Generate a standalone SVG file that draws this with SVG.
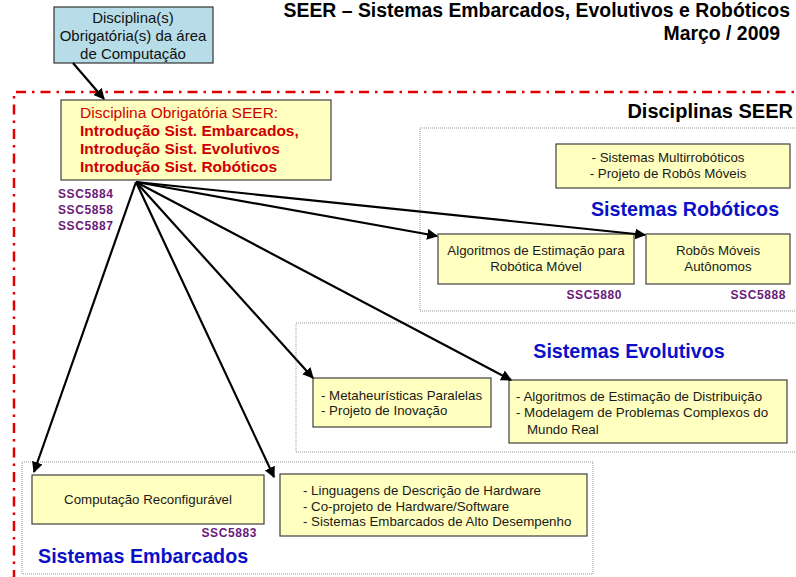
<svg xmlns="http://www.w3.org/2000/svg" width="796" height="577" viewBox="0 0 796 577">
<style>
text{font-family:"Liberation Sans",Arial,sans-serif;}
.box{fill:#ffffc0;stroke:#404040;stroke-width:1.2;}
.cont{fill:#ffffff;stroke:#999999;stroke-width:1;stroke-dasharray:1 1;}
.t{font-size:13.3px;fill:#1a1a1a;}
.code{font-size:12px;font-weight:bold;fill:#6a1b7a;letter-spacing:0.6px;}
.sec{font-size:19.7px;font-weight:bold;fill:#0b10c8;}
.red{font-size:15.5px;fill:#d00000;}
.conn{stroke:#000;stroke-width:2.2;fill:none;marker-end:url(#ah);}
</style>
<defs>
<marker id="ah" viewBox="0 0 10 10" refX="9" refY="5" markerWidth="5" markerHeight="5" orient="auto" markerUnits="strokeWidth">
<path d="M0,0 L10,5 L0,10 z" fill="#000"/>
</marker>
</defs>
<rect width="796" height="577" fill="#ffffff"/>

<g id="title">
<text x="790" y="17" text-anchor="end" font-size="19.4" font-weight="bold" fill="#000">SEER – Sistemas Embarcados, Evolutivos e Robóticos</text>
<text x="780" y="40" text-anchor="end" font-size="19.4" font-weight="bold" fill="#000">Março / 2009</text>
</g>

<g id="seer-border">
<path d="M14,580 L14,92 L800,92" fill="none" stroke="#e00000" stroke-width="2.5" stroke-dasharray="10 6 2.5 6"/>
<text x="793" y="118" text-anchor="end" font-size="20" font-weight="bold" fill="#000">Disciplinas SEER</text>
</g>

<g id="computacao-top">
<rect x="54" y="7" width="159" height="56" fill="#b7dde8" stroke="#333" stroke-width="1.2"/>
<text x="133" y="23" text-anchor="middle" font-size="15" fill="#111">Disciplina(s)</text>
<text x="133" y="41" text-anchor="middle" font-size="15" fill="#111">Obrigatória(s) da área</text>
<text x="133" y="59" text-anchor="middle" font-size="15" fill="#111">de Computação</text>
</g>

<g id="obrigatoria">
<rect class="box" x="61" y="100" width="270" height="80"/>
<text class="red" x="80" y="118" fill="#e00000">Disciplina Obrigatória SEER:</text>
<text class="red" x="80" y="136" font-weight="bold">Introdução Sist. Embarcados,</text>
<text class="red" x="80" y="154" font-weight="bold">Introdução Sist. Evolutivos</text>
<text class="red" x="80" y="172" font-weight="bold">Introdução Sist. Robóticos</text>
<text class="code" x="58" y="198">SSC5884</text>
<text class="code" x="58" y="214">SSC5858</text>
<text class="code" x="58" y="230">SSC5887</text>
</g>

<g id="robotica">
<rect class="cont" x="420" y="128" width="380" height="183"/>
<text class="sec" x="685" y="216" text-anchor="middle">Sistemas Robóticos</text>
</g>
<g id="multirrobo">
<rect class="box" x="556" y="144" width="234" height="44"/>
<text class="t" x="668" y="162" text-anchor="middle">- Sistemas Multirrobóticos</text>
<text class="t" x="668" y="178" text-anchor="middle">- Projeto de Robôs Móveis</text>
</g>
<g id="estimacao-robotica">
<rect class="box" x="438" y="234" width="196" height="50"/>
<text class="t" x="536" y="255" text-anchor="middle">Algoritmos de Estimação para</text>
<text class="t" x="536" y="271" text-anchor="middle">Robótica Móvel</text>
<text class="code" x="622" y="299" text-anchor="end">SSC5880</text>
</g>
<g id="robos-moveis">
<rect class="box" x="646" y="234" width="144" height="50"/>
<text class="t" x="718" y="255" text-anchor="middle">Robôs Móveis</text>
<text class="t" x="718" y="271" text-anchor="middle">Autônomos</text>
<text class="code" x="786" y="299" text-anchor="end">SSC5888</text>
</g>

<g id="evolutivos">
<rect class="cont" x="296" y="323" width="504" height="129"/>
<text class="sec" x="629" y="358" text-anchor="middle">Sistemas Evolutivos</text>
</g>
<g id="metaheuristicas">
<rect class="box" x="313" y="378" width="178" height="49"/>
<text class="t" x="321" y="400">- Metaheurísticas Paralelas</text>
<text class="t" x="321" y="415">- Projeto de Inovação</text>
</g>
<g id="estimacao-distribuicao">
<rect class="box" x="509" y="380" width="278" height="63"/>
<text class="t" x="516" y="401">- Algoritmos de Estimação de Distribuição</text>
<text class="t" x="516" y="417">- Modelagem de Problemas Complexos do</text>
<text class="t" x="527" y="434">Mundo Real</text>
</g>

<g id="embarcados">
<rect class="cont" x="22" y="462" width="571" height="112"/>
<text class="sec" x="38" y="563">Sistemas Embarcados</text>
</g>
<g id="reconfiguravel">
<rect class="box" x="32" y="475" width="232" height="49"/>
<text class="t" x="148" y="504" text-anchor="middle">Computação Reconfigurável</text>
<text class="code" x="257" y="537" text-anchor="end">SSC5883</text>
</g>
<g id="hardware">
<rect class="box" x="280" y="474" width="307" height="62"/>
<text class="t" x="303" y="495">- Linguagens de Descrição de Hardware</text>
<text class="t" x="303" y="511">- Co-projeto de Hardware/Software</text>
<text class="t" x="303" y="526">- Sistemas Embarcados de Alto Desempenho</text>
</g>

<g id="connectors">
<line class="conn" x1="73" y1="63" x2="104" y2="99"/>
<line class="conn" x1="136" y1="182" x2="437" y2="236"/>
<line class="conn" x1="136" y1="182" x2="645" y2="235"/>
<line class="conn" x1="136" y1="182" x2="313" y2="378"/>
<line class="conn" x1="136" y1="182" x2="511" y2="380"/>
<line class="conn" x1="136" y1="182" x2="34" y2="472"/>
<line class="conn" x1="136" y1="182" x2="274" y2="477"/>
</g>
</svg>
